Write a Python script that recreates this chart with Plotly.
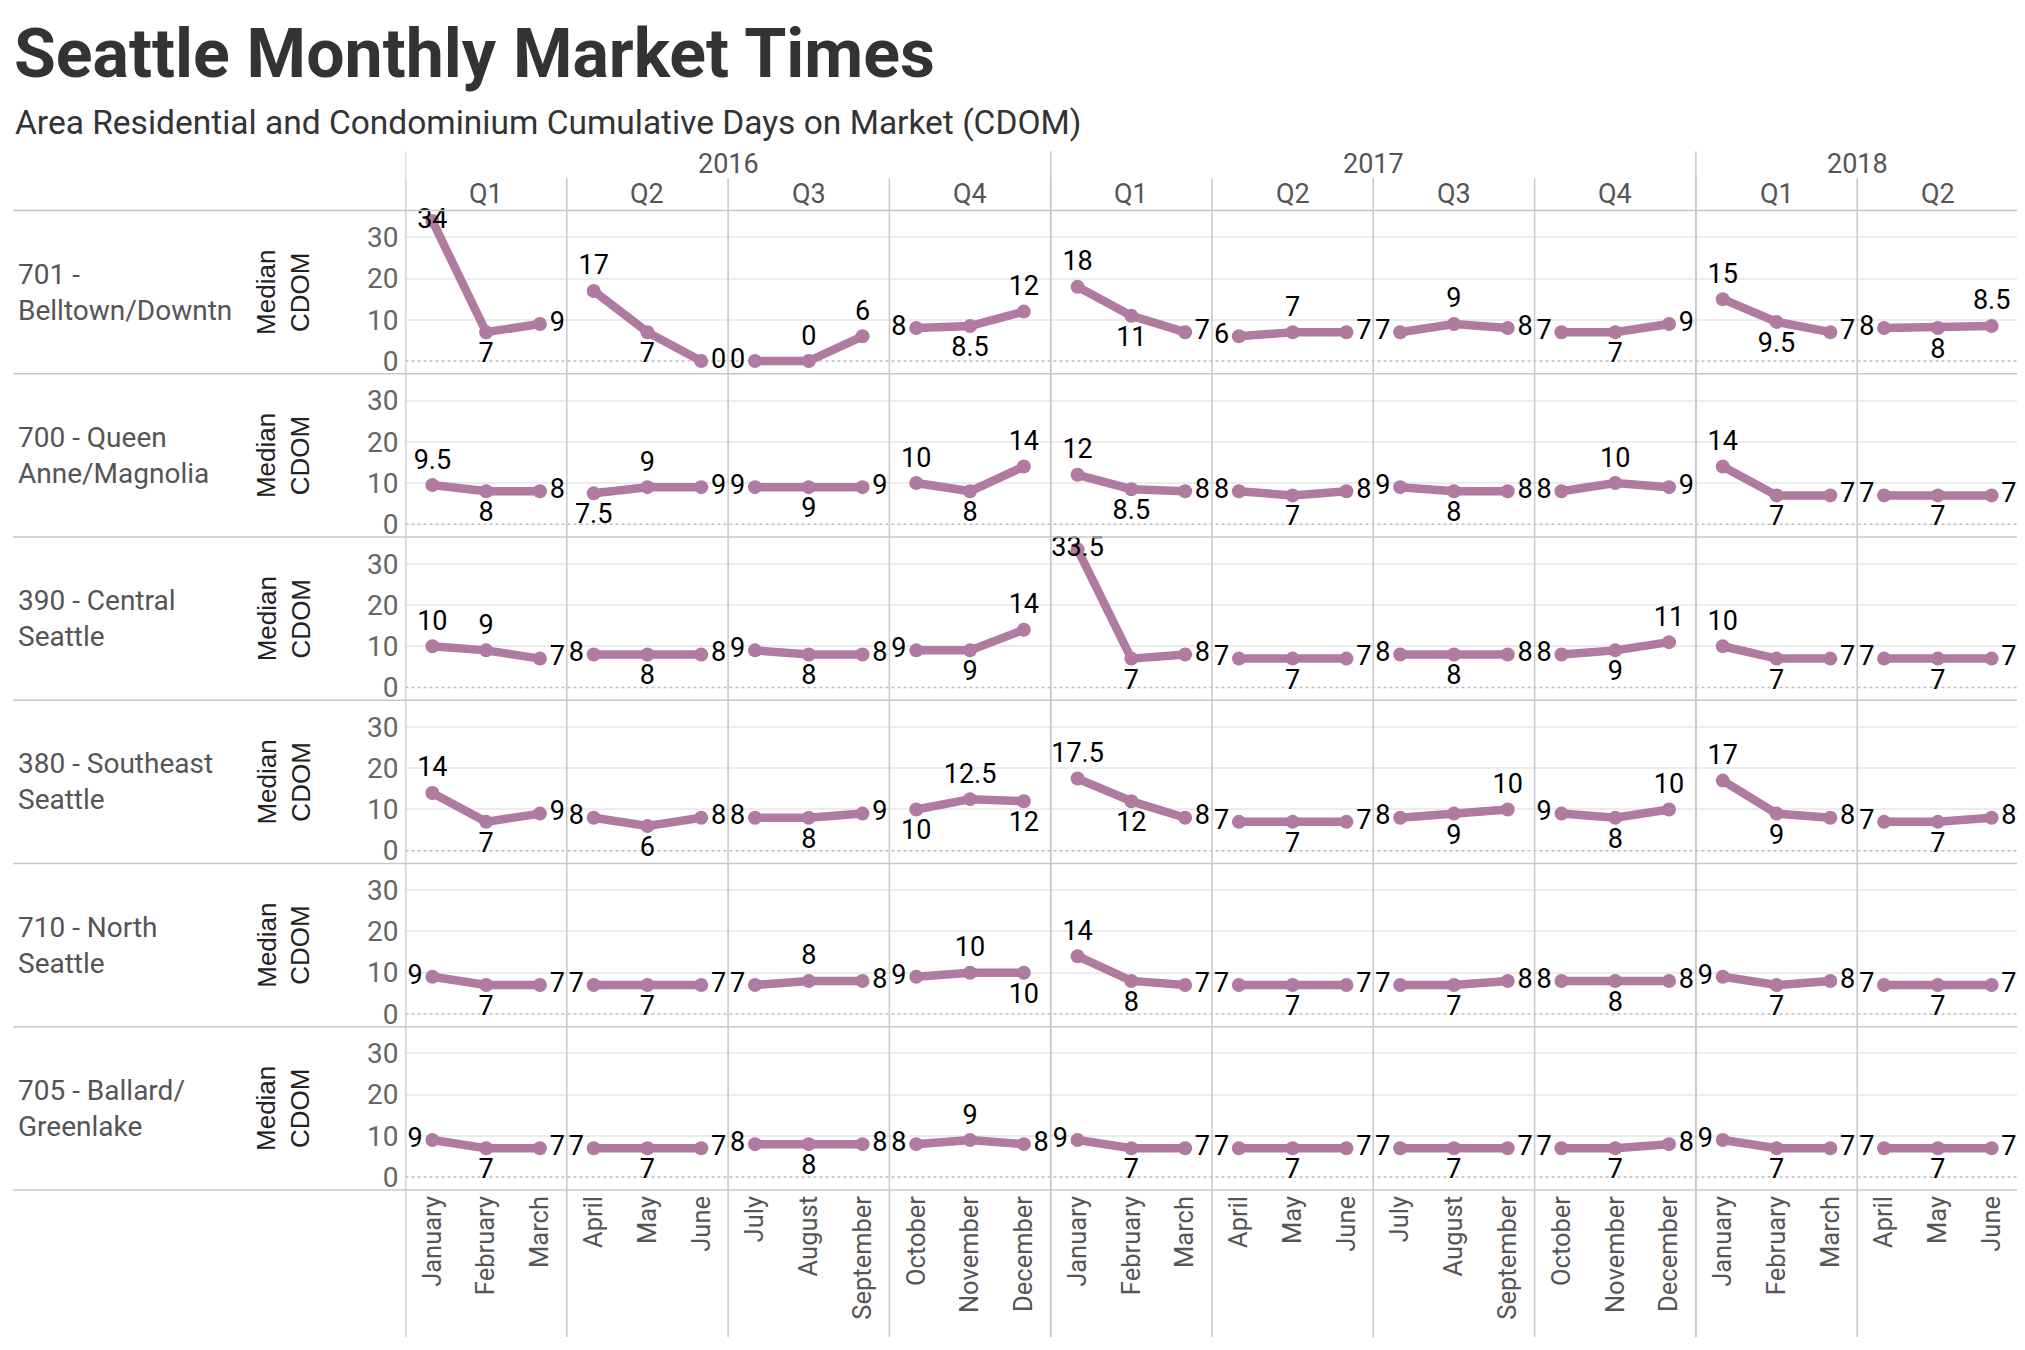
import plotly.graph_objects as go
from plotly.subplots import make_subplots

# --- Dados (Median CDOM por mês) ---
months = ["January", "February", "March", "April", "May", "June",
          "July", "August", "September", "October", "November", "December",
          "January", "February", "March", "April", "May", "June",
          "July", "August", "September", "October", "November", "December",
          "January", "February", "March", "April", "May", "June"]
quarters = ["Q1", "Q2", "Q3", "Q4", "Q1", "Q2", "Q3", "Q4", "Q1", "Q2"]
years = ["2016", "2017", "2018"]
year_quarters = [4, 4, 2]

areas = ["701 -<br>Belltown/Downtn", "700 - Queen<br>Anne/Magnolia",
         "390 - Central<br>Seattle", "380 - Southeast<br>Seattle",
         "710 - North<br>Seattle", "705 - Ballard/<br>Greenlake"]

cdom_701 = [34, 7, 9, 17, 7, 0, 0, 0, 6, 8, 8.5, 12, 18, 11, 7, 6, 7, 7, 7, 9, 8, 7, 7, 9, 15, 9.5, 7, 8, 8, 8.5]
cdom_700 = [9.5, 8, 8, 7.5, 9, 9, 9, 9, 9, 10, 8, 14, 12, 8.5, 8, 8, 7, 8, 9, 8, 8, 8, 10, 9, 14, 7, 7, 7, 7, 7]
cdom_390 = [10, 9, 7, 8, 8, 8, 9, 8, 8, 9, 9, 14, 33.5, 7, 8, 7, 7, 7, 8, 8, 8, 8, 9, 11, 10, 7, 7, 7, 7, 7]
cdom_380 = [14, 7, 9, 8, 6, 8, 8, 8, 9, 10, 12.5, 12, 17.5, 12, 8, 7, 7, 7, 8, 9, 10, 9, 8, 10, 17, 9, 8, 7, 7, 8]
cdom_710 = [9, 7, 7, 7, 7, 7, 7, 8, 8, 9, 10, 10, 14, 8, 7, 7, 7, 7, 7, 7, 8, 8, 8, 8, 9, 7, 8, 7, 7, 7]
cdom_705 = [9, 7, 7, 7, 7, 7, 8, 8, 8, 8, 9, 8, 9, 7, 7, 7, 7, 7, 7, 7, 7, 7, 7, 8, 9, 7, 7, 7, 7, 7]

series = [cdom_701, cdom_700, cdom_390, cdom_380, cdom_710, cdom_705]

# --- Layout em pixels ---
W, H = 2025, 1350
PLOT_L, PLOT_R = 397.5, 2010.5
ROW_TOP, ROW_H = 203.2, 163.7
COLOR = "#b07aa1"
GRID = "#c8c8c8"
FONT = "Roboto"


def fx(p):
    return p / W


def fy(p):
    return 1 - p / H


def label_position(vals, i):
    # imita a colocação dos rótulos do Tableau (evitar colisões entre trimestres)
    v = vals[i]
    lab = f"{v:g}"
    k = i % 3
    if v > 30:
        return "middle center"
    if k == 0:
        nxt = vals[i + 1]
        if v > nxt and v >= 9.5:
            return "top center"
        if v < nxt and len(lab) > 1:
            return "bottom center"
        return "middle left"
    if k == 1:
        mid = (vals[i - 1] + vals[i + 1]) / 2
        return "top center" if (v > mid or v < 3) else "bottom center"
    prev = vals[i - 1]
    if len(lab) > 1:
        return "top center" if v > prev else "bottom center"
    return "top center" if v - prev > 2 else "middle right"


def quarter_segments(vals):
    # quebra a linha a cada trimestre
    n = len(vals)
    xs, ys, txt, pos = [], [], [], []
    for i, v in enumerate(vals):
        xs.append(i)
        ys.append(v)
        txt.append(f"{v:g}")
        pos.append(label_position(vals, i))
        if i % 3 == 2 and i < n - 1:
            xs.append(None)
            ys.append(None)
            txt.append("")
            pos.append("middle center")
    return xs, ys, txt, pos


fig = make_subplots(rows=len(series), cols=1, shared_xaxes=True, vertical_spacing=0)

for r, vals in enumerate(series, start=1):
    xs, ys, txt, pos = quarter_segments(vals)
    fig.add_trace(go.Scatter(
        x=xs, y=ys, text=txt, textposition=pos,
        mode="lines+markers+text",
        line=dict(color=COLOR, width=8.5),
        marker=dict(color=COLOR, size=14),
        textfont=dict(family=FONT, size=27, color="#000000"),
        cliponaxis=False, showlegend=False, hoverinfo="skip",
    ), row=r, col=1)

shapes = []
annotations = []

for r in range(1, len(series) + 1):
    top = ROW_TOP + (r - 1) * ROW_H
    bot = top + ROW_H
    fig.update_yaxes(
        domain=[fy(bot), fy(top)], range=[-3.1, 36.5],
        tickvals=[0, 10, 20, 30], showgrid=False, zeroline=False, showline=False,
        ticks="", ticklabelstandoff=6,
        tickfont=dict(family=FONT, size=28, color="#666666"),
        minor=dict(tickvals=[10, 20, 30], showgrid=True, gridcolor="#ececec", gridwidth=1.5, ticks=""),
        row=r, col=1,
    )
    fig.update_xaxes(
        domain=[fx(PLOT_L), fx(PLOT_R)], range=[-0.5, len(months) - 0.5],
        showgrid=False, zeroline=False, showline=False, ticks="",
        tickvals=list(range(len(months))), ticktext=months, tickangle=-90,
        showticklabels=(r == len(series)),
        tickfont=dict(family=FONT, size=25.5, color="#555555"),
        row=r, col=1,
    )
    yname = "y" if r == 1 else f"y{r}"
    xname = "x" if r == 1 else f"x{r}"
    # linha zero pontilhada
    shapes.append(dict(type="line", xref=f"{xname} domain", yref=yname, x0=0, x1=1, y0=0, y1=0,
                       line=dict(color="#bdbdbd", width=1.5, dash="dot"), layer="below"))
    # rótulo da área
    annotations.append(dict(text=areas[r - 1], x=fx(8), y=fy(top + ROW_H / 2), xref="paper", yref="paper",
                            xanchor="left", yanchor="middle", align="left", showarrow=False,
                            font=dict(family=FONT, size=28, color="#555555")))
    annotations.append(dict(text="Median<br>CDOM", x=fx(275.7), y=fy(top + ROW_H / 2), xref="paper", yref="paper",
                            textangle=-90, xanchor="center", yanchor="middle", showarrow=False,
                            font=dict(family="Liberation Sans", size=26, color="#222222")))

# linhas horizontais entre as linhas do painel
for i in range(len(series) + 1):
    yy = ROW_TOP + i * ROW_H
    shapes.append(dict(type="line", xref="paper", yref="paper", x0=fx(5), x1=fx(PLOT_R),
                       y0=fy(yy), y1=fy(yy), line=dict(color=GRID, width=1.5)))

# separadores de trimestre e ano
for q in range(len(quarters) + 1):
    shapes.append(dict(type="line", xref="x", yref="paper", x0=q * 3 - 0.5, x1=q * 3 - 0.5,
                       y0=fy(170.8), y1=fy(1333), line=dict(color=GRID, width=1.5)))
start = 0
for yr, nq in zip(years, year_quarters):
    x0 = start * 3 - 0.5
    x1 = (start + nq) * 3 - 0.5
    shapes.append(dict(type="line", xref="x", yref="paper", x0=x0, x1=x0,
                       y0=fy(143.6), y1=fy(1333), line=dict(color=GRID, width=1.5)))
    annotations.append(dict(text=yr, x=(x0 + x1) / 2, y=fy(156.5), xref="x", yref="paper",
                            xanchor="center", yanchor="middle", showarrow=False,
                            font=dict(family=FONT, size=27, color="#555555")))
    start += nq

for q, name in enumerate(quarters):
    annotations.append(dict(text=name, x=q * 3 + 1, y=fy(186.3), xref="x", yref="paper",
                            xanchor="center", yanchor="middle", showarrow=False,
                            font=dict(family=FONT, size=27, color="#555555")))

# título e subtítulo
annotations.append(dict(text="<b>Seattle Monthly Market Times</b>", x=fx(4), y=fy(46),
                        xref="paper", yref="paper", xanchor="left", yanchor="middle", showarrow=False,
                        font=dict(family=FONT, size=68, color="#333333")))
annotations.append(dict(text="Area Residential and Condominium Cumulative Days on Market (CDOM)",
                        x=fx(5), y=fy(115), xref="paper", yref="paper", xanchor="left", yanchor="middle",
                        showarrow=False, font=dict(family=FONT, size=33.5, color="#333333")))

fig.update_layout(
    width=W, height=H,
    margin=dict(l=0, r=0, t=0, b=0),
    paper_bgcolor="white", plot_bgcolor="white",
    shapes=shapes, annotations=annotations,
)

fig.write_html("out.html")
